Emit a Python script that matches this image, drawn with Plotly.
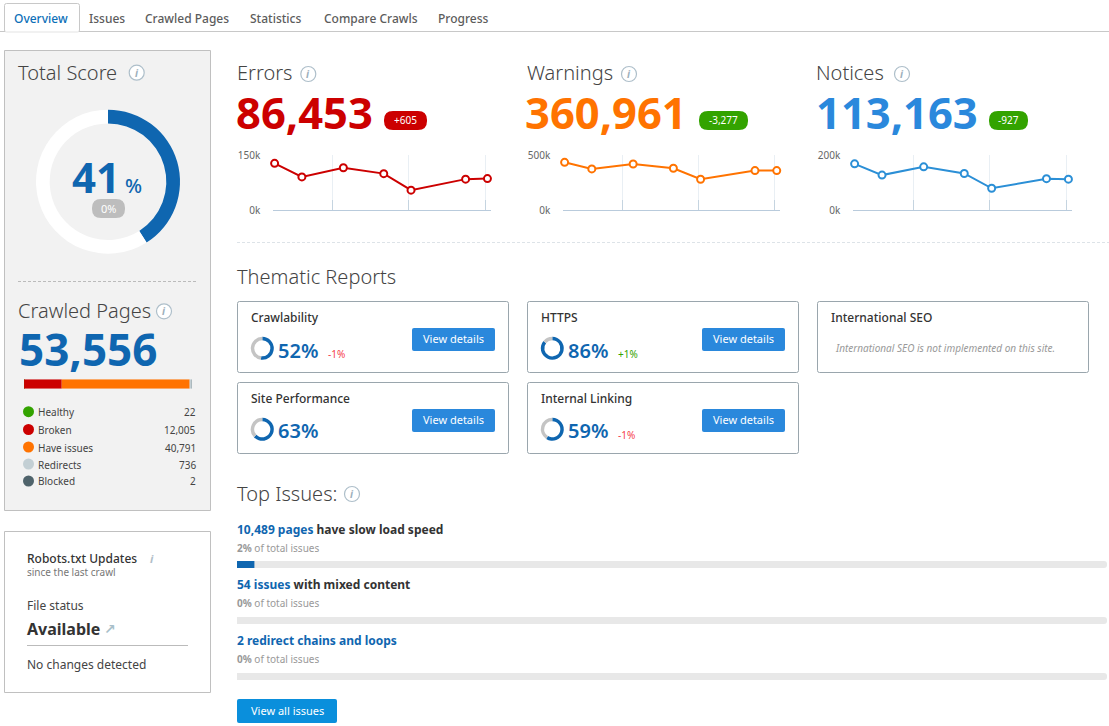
import numpy as np
import plotly.graph_objects as go

W, H = 1109, 726
FONT = "Noto Sans"
DARK = "#333333"
TITLE = "#444444"
BLUE = "#0f66b0"

tab_labels = ["Overview", "Issues", "Crawled Pages", "Statistics", "Compare Crawls", "Progress"]

crawl_days = [0, 2.5, 6.3, 10, 12.5, 17.5, 19.5]
crawl_ticks = [5.34, 12.3, 19.3]
errors = [128000, 91000, 116000, 100000, 55000, 85000, 86453]
warnings = [436000, 376000, 421000, 382000, 282000, 361000, 360961]
notices = [169000, 128000, 158000, 134000, 80000, 115000, 113163]

total_score = 41

page_labels = ["Healthy", "Broken", "Have issues", "Redirects", "Blocked"]
page_counts = [22, 12005, 40791, 736, 2]
page_colors = ["#33a300", "#cc0000", "#ff7300", "#c3cfd4", "#4f636b"]

report_names = ["Crawlability", "Site Performance", "HTTPS", "Internal Linking"]
report_scores = [52, 63, 86, 59]
report_deltas = ["-1%", "", "+1%", "-1%"]

issue_rows = ["slow load speed", "mixed content", "redirect chains"]
issue_share = [2, 0, 0]
issue_track = [100, 100, 100]


def X(px):
    return px / W


def Y(py):
    return 1 - py / H


shapes = []
notes = []


def text(x, y, s, size=12, color=DARK, weight=400, anchor="left", italic=False, family=FONT):
    notes.append(dict(
        x=X(x), y=Y(y), xref="paper", yref="paper", text=s, showarrow=False,
        xanchor=anchor, yanchor="middle", borderpad=0, borderwidth=0,
        font=dict(family=family, size=size, color=color, weight=weight,
                  style="italic" if italic else "normal"),
    ))


def box(x0, y0, x1, y1, fill="rgba(0,0,0,0)", line=None, r=0, lw=1):
    k = r
    p = (f"M{X(x0 + k)},{Y(y0)} L{X(x1 - k)},{Y(y0)} Q{X(x1)},{Y(y0)} {X(x1)},{Y(y0 + k)} "
         f"L{X(x1)},{Y(y1 - k)} Q{X(x1)},{Y(y1)} {X(x1 - k)},{Y(y1)} "
         f"L{X(x0 + k)},{Y(y1)} Q{X(x0)},{Y(y1)} {X(x0)},{Y(y1 - k)} "
         f"L{X(x0)},{Y(y0 + k)} Q{X(x0)},{Y(y0)} {X(x0 + k)},{Y(y0)} Z")
    shapes.append(dict(type="path", path=p, xref="paper", yref="paper", fillcolor=fill,
                       line=dict(color=line or "rgba(0,0,0,0)", width=lw if line else 0), layer="below"))


def hline(x0, x1, y, color, dash="solid"):
    shapes.append(dict(type="line", xref="paper", yref="paper", x0=X(x0), x1=X(x1), y0=Y(y), y1=Y(y),
                       line=dict(color=color, width=1, dash=dash), layer="below"))


def dot(cx, cy, r, fill, line=None):
    shapes.append(dict(type="circle", xref="paper", yref="paper", x0=X(cx - r), x1=X(cx + r),
                       y0=Y(cy + r), y1=Y(cy - r), fillcolor=fill,
                       line=dict(color=line or fill, width=1.2 if line else 0)))


def info(cx, cy):
    dot(cx, cy, 7.5, "#ffffff", "#aebfca")
    text(cx, cy, "<b>i</b>", size=10, color="#9db0bc", anchor="center", italic=True)


# tab bar
hline(0, W, 31.5, "#c8c8c8")
box(4.5, 3.5, 79.5, 32, fill="#ffffff", line="#c8c8c8", r=2)
hline(5, 79, 32, "#ffffff")
for label, tx in zip(tab_labels, [14, 89, 145, 250, 324, 438]):
    text(tx, 18.5, label, size=12, color="#0d6fb8" if label == "Overview" else "#5c5c5c", weight=500)

# left panels
box(4.5, 50.5, 210.5, 510.5, fill="#f2f2f2", line="#c0c0c0")
hline(18, 197, 281.5, "#bbbbbb", "3px,2px")
box(4.5, 531.5, 210.5, 692.5, fill="#ffffff", line="#c0c0c0")

text(18, 72.5, "Total Score", size=20, color=TITLE, weight=300)
info(136.7, 72.7)
text(96, 176, "41", size=42, color=BLUE, weight=700, anchor="center")
text(125, 185, "%", size=20, color=BLUE, weight=500)
box(92, 199, 125, 218, fill="#bdbdbd", r=9)
text(108.5, 208.5, "0%", size=11, color="#ffffff", anchor="center")

text(18, 311, "Crawled Pages", size=20, color=TITLE, weight=300)
info(164, 311.3)
text(19, 349, "53,556", size=44, color=BLUE, weight=700)
for label, count, color, ly in zip(page_labels, page_counts, page_colors, [411.7, 429.5, 447, 464, 481]):
    dot(28.5, ly, 5.5, color)
    text(38, ly + 0.5, label, size=10, color="#444444")
    text(196, ly + 0.5, f"{count:,}", size=10, color="#444444", anchor="right")

text(27, 558, "Robots.txt Updates", size=12, weight=500)
text(152, 558, "<b>i</b>", size=11, color="#b0bec8", anchor="center", italic=True)
text(27, 572, "since the last crawl", size=10, color="#777777")
text(27, 605, "File status", size=12, color="#444444")
text(27, 629, "Available", size=16, weight=700)
text(110, 629, "<b>↗</b>", size=14, color="#a9bfca", anchor="center", family="DejaVu Sans")
hline(27, 188, 645.5, "#bbbbbb")
text(27, 664, "No changes detected", size=12, color="#444444")

# headline counters
counters = [
    ("Errors", 237, 308.3, "86,453", 236, "#cc0000", "+605", 384, 427, "#cc0000"),
    ("Warnings", 527, 629, "360,961", 525, "#ff7300", "-3,277", 699, 748, "#33a300"),
    ("Notices", 816, 902, "113,163", 816, "#2a88dc", "-927", 989, 1028, "#33a300"),
]
for title, tx, ix, num, nx, ncolor, delta, b0, b1, bcolor in counters:
    text(tx, 73, title, size=20, color=TITLE, weight=300)
    info(ix, 74)
    text(nx, 111.5, num, size=43.5, color=ncolor, weight=700)
    box(b0, 111, b1, 130, fill=bcolor, r=9)
    text((b0 + b1) / 2, 120.5, delta, size=10, color="#ffffff", anchor="center")

hline(237, W, 242.5, "#dde3e8", "3px,2px")
text(237, 276, "Thematic Reports", size=20, color=TITLE, weight=300)

# thematic report cards
cards = [(237.5, 301.5), (237.5, 382.5), (527.5, 301.5), (527.5, 382.5)]
for name, score, delta, (cx, cy) in zip(report_names, report_scores, report_deltas, cards):
    box(cx, cy, cx + 271, cy + 71, fill="#ffffff", line="#9aa6ad", r=2)
    text(cx + 13, cy + 16, name, size=12, weight=500)
    text(cx + 40.5, cy + 48.5, f"{score}%", size=20, color=BLUE, weight=600)
    if delta:
        dcolor = "#33a300" if delta.startswith("+") else "#f5404a"
        text(cx + 90.5, cy + 52.5, delta, size=10, color=dcolor)
    box(cx + 174.5, cy + 26.5, cx + 257.5, cy + 49.5, fill="#2a88dc", r=2)
    text(cx + 216, cy + 37, "View details", size=11, color="#ffffff", anchor="center")

box(817.5, 301.5, 1088.5, 372.5, fill="#ffffff", line="#9aa6ad", r=2)
text(831, 317, "International SEO", size=12, weight=500)
text(835, 348, "International SEO is not implemented on this site.", size=10, color="#999999", italic=True)

# top issues text
text(237, 493, "Top Issues:", size=20, color=TITLE, weight=300)
info(352, 494)
link = "<span style='color:#0f66b0'>{}</span>"
text(237, 529, "<b>" + link.format("10,489 pages") + " have slow load speed</b>", size=12)
text(237, 548, "<b>2%</b> of total issues", size=10, color="#999999")
text(237, 584, "<b>" + link.format("54 issues") + " with mixed content</b>", size=12)
text(237, 603, "<b>0%</b> of total issues", size=10, color="#999999")
text(237, 640, "<b>" + link.format("2 redirect chains and loops") + "</b>", size=12)
text(237, 659, "<b>0%</b> of total issues", size=10, color="#999999")
box(237, 699, 337, 723, fill="#0a8fdc", r=2)
text(287, 710.5, "View all issues", size=11, color="#ffffff", anchor="center")

fig = go.Figure()
layout_axes = {}


def dom_x(x0, x1):
    return [X(x0), X(x1)]


def dom_y(y0, y1):
    return [Y(y1), Y(y0)]


# sparklines
sparks = [
    (errors, 150000, "150k", "#cc0000", 273.3, 490.7),
    (warnings, 500000, "500k", "#ff7300", 563.3, 780),
    (notices, 200000, "200k", "#2b8fd6", 853.3, 1071.7),
]
for i, (vals, top, top_label, color, x0, x1) in enumerate(sparks, start=1):
    fig.add_trace(go.Scatter(
        x=crawl_days, y=vals, mode="lines+markers", xaxis=f"x{i}", yaxis=f"y{i}",
        line=dict(color=color, width=2), cliponaxis=False, hoverinfo="skip",
        marker=dict(size=7, color="#ffffff", line=dict(color=color, width=2)),
    ))
    layout_axes[f"xaxis{i}"] = dict(
        domain=dom_x(x0, x1), range=[-0.12, 19.8], anchor=f"y{i}", tickmode="array", tickvals=crawl_ticks,
        showticklabels=False, showgrid=True, gridcolor="#e9eff4", zeroline=False, showline=True,
        linecolor="#b9cbdc", ticks="inside", ticklen=10, tickcolor="#c5d4e0",
    )
    layout_axes[f"yaxis{i}"] = dict(
        domain=dom_y(155.3, 210.3), range=[0, top], anchor=f"x{i}", tickmode="array", tickvals=[0, top],
        ticktext=["0k", top_label], showgrid=True, gridcolor="#e9eff4", zeroline=False, showline=False,
        ticks="", ticklabelstandoff=12, tickfont=dict(family=FONT, size=10, color="#666666"),
    )

# crawled pages stacked bar, the two tiny tail segments only show as a soft edge
starts = np.concatenate([[0], np.cumsum(page_counts)[:-1]])
for label, count, start, color in zip(page_labels, page_counts, starts, page_colors):
    fig.add_trace(go.Bar(
        x=[count], y=["pages"], base=[int(start)], orientation="h", xaxis="x4", yaxis="y4",
        marker=dict(color=color, line=dict(width=0), opacity=0.2 if label == "Blocked" else 1),
        width=1, hoverinfo="skip", name=label,
    ))
layout_axes["xaxis4"] = dict(domain=dom_x(24, 192), range=[0, sum(page_counts)], anchor="y4", visible=False)
layout_axes["yaxis4"] = dict(domain=dom_y(379.3, 388.7), anchor="x4", visible=False)

# top issue progress bars
fig.add_trace(go.Bar(
    x=issue_track, y=issue_rows, orientation="h", xaxis="x5", yaxis="y5", width=0.125,
    marker=dict(color="#e8e8e8", line=dict(width=0), cornerradius=3), hoverinfo="skip",
))
fig.add_trace(go.Bar(
    x=issue_share, y=issue_rows, orientation="h", xaxis="x5", yaxis="y5", width=0.125,
    marker=dict(color=BLUE, line=dict(width=0), cornerradius=3), hoverinfo="skip",
))
layout_axes["xaxis5"] = dict(domain=dom_x(237, 1107), range=[0, 100], anchor="y5", visible=False)
layout_axes["yaxis5"] = dict(domain=dom_y(536.5, 704.5), anchor="x5", visible=False, autorange="reversed",
                             type="category", categoryorder="array", categoryarray=issue_rows)

# score rings
fig.add_trace(go.Pie(
    values=[total_score, 100 - total_score], marker=dict(colors=[BLUE, "#ffffff"], line=dict(width=0)),
    hole=0.81, sort=False, direction="clockwise", rotation=0, textinfo="none", hoverinfo="skip",
    domain=dict(x=dom_x(36, 180), y=dom_y(109.7, 253.7)),
))
for score, (cx, cy) in zip(report_scores, cards):
    rx, ry = cx + 24.8, cy + 46.8
    fig.add_trace(go.Pie(
        values=[score, 100 - score], marker=dict(colors=[BLUE, "#c4c4c4"], line=dict(width=0)),
        hole=0.7, sort=False, direction="clockwise", rotation=0, textinfo="none", hoverinfo="skip",
        domain=dict(x=dom_x(rx - 11.5, rx + 11.5), y=dom_y(ry - 11.5, ry + 11.5)),
    ))

fig.update_layout(
    width=W, height=H, margin=dict(l=0, r=0, t=0, b=0, pad=0, autoexpand=False), autosize=False,
    paper_bgcolor="#ffffff", plot_bgcolor="rgba(0,0,0,0)", showlegend=False, barmode="overlay",
    shapes=shapes, annotations=notes, font=dict(family=FONT), **layout_axes,
)

fig.write_html("out.html", config=dict(displayModeBar=False),
               post_script="document.body.style.margin='0';document.body.style.overflow='hidden';")
